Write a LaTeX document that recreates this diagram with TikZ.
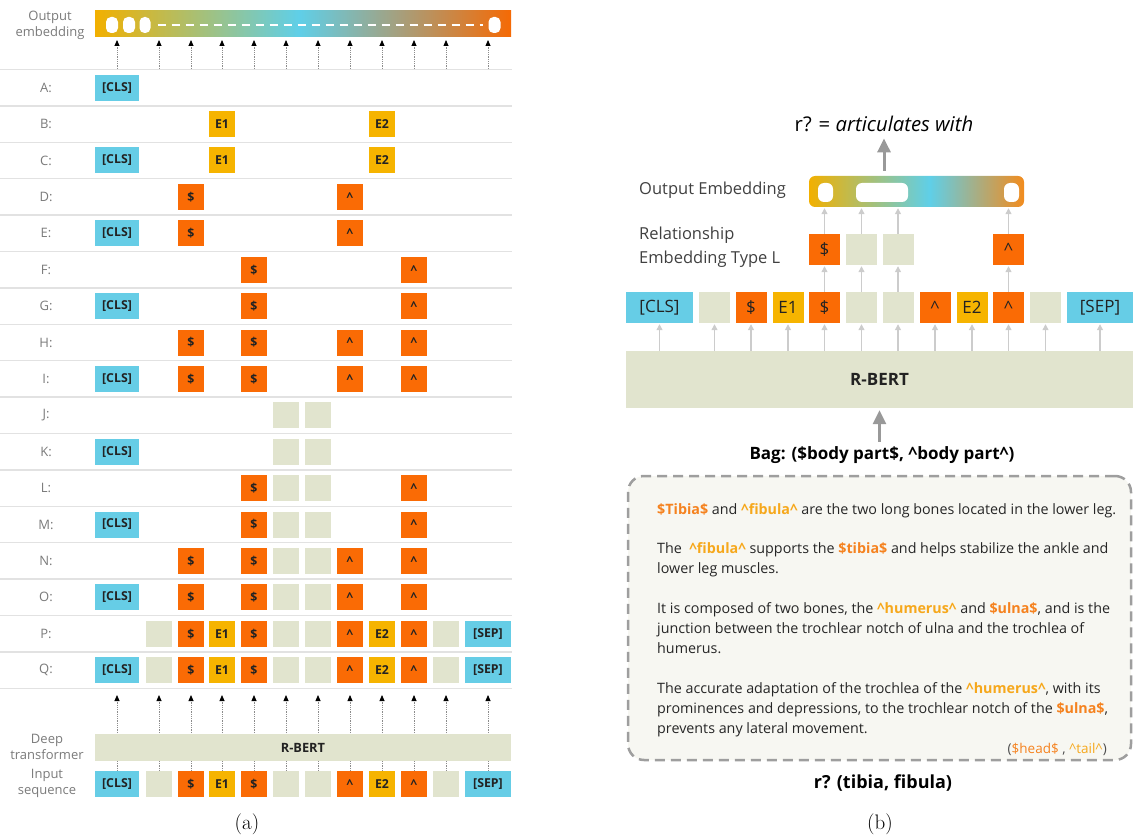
\documentclass[tikz,border=0pt]{standalone}
\usepackage{fontspec}
\newfontfamily\osans{Open Sans}
\usepackage{xcolor}
\usetikzlibrary{arrows.meta}
\usetikzlibrary{positioning}

\definecolor{clsblue}{HTML}{66CDE6}
\definecolor{padgreen}{HTML}{E1E4CE}
\definecolor{markorange}{HTML}{FA6B05}
\definecolor{entamber}{HTML}{F6B400}
\definecolor{hlorange}{HTML}{F5821F}
\definecolor{hlamber}{HTML}{F6A81C}
\definecolor{boxfill}{HTML}{F7F7F2}
\definecolor{sepgray}{HTML}{E2E2E2}
\definecolor{labgray}{HTML}{7A7A7A}
\definecolor{tokdark}{HTML}{222222}
\definecolor{embyel}{HTML}{F2B000}
\definecolor{embcyan}{HTML}{5FCFE8}
\definecolor{embora}{HTML}{F56A05}
\definecolor{embora2}{HTML}{F28C1E}

\pgfdeclarehorizontalshading{embleft}{100bp}{color(0bp)=(embyel); color(25bp)=(embyel); color(49.5bp)=(embcyan); color(75bp)=(embora); color(100bp)=(embora)}
\pgfdeclarehorizontalshading{embright}{100bp}{color(0bp)=(embyel); color(25bp)=(embyel); color(53bp)=(embcyan); color(75bp)=(embora2); color(100bp)=(embora2)}

\newcommand{\toklabel}[1]{\ifcase#1 [CLS]\or\or\$\or E1\or\$\or\or\or\textasciicircum\or E2\or\textasciicircum\or\or [SEP]\fi}
\newcommand{\headent}[1]{\textcolor{hlorange}{\bfseries\$#1\$}}
\newcommand{\tailent}[1]{\textcolor{hlamber}{\bfseries\textasciicircum#1\textasciicircum}}

\tikzset{
  tk0/.style={fill=clsblue}, tk1/.style={fill=padgreen}, tk2/.style={fill=markorange},
  tk3/.style={fill=entamber}, tk4/.style={tk2}, tk5/.style={tk1}, tk6/.style={tk1},
  tk7/.style={tk2}, tk8/.style={tk3}, tk9/.style={tk2}, tk10/.style={tk1}, tk11/.style={tk0},
}

\begin{document}
\begin{tikzpicture}[x=1pt, y=-1pt,
    every node/.style={font=\osans},
    rowlab/.style={font=\osans\fontsize{13}{16}\selectfont, text=labgray, align=center},
    sidelab/.style={font=\osans\fontsize{16.5}{24}\selectfont, text=black!75, align=left, anchor=west, inner sep=0pt},
    tokA/.style={minimum height=26pt, inner sep=0pt, font=\osans\bfseries\fontsize{12.3}{13}\selectfont, text=tokdark},
    tokB/.style={minimum height=31pt, inner sep=0pt, font=\osans\fontsize{17}{18}\selectfont, text=tokdark},
    pill/.style={fill=white, rounded corners=5pt, inner sep=0pt},
    bertbox/.style={fill=padgreen, inner sep=0pt, font=\osans\bfseries, text=tokdark},
    sepline/.style={draw=sepgray, line width=1.5pt},
    dotarrow/.style={densely dotted, draw=black!45, line width=0.8pt, -{Triangle[length=6pt, width=5pt, color=black]}},
    thinarrow/.style={draw=black!20, line width=1.2pt, -{Triangle[length=6pt, width=6pt]}, shorten >=1pt},
    bigarrow/.style={draw=black!40, line width=3pt, -{Triangle[length=14pt, width=13pt]}},
    para/.style={font=\osans\fontsize{14.3}{20}\selectfont, text=black!85, align=left, anchor=base west, inner sep=0pt},
    caption/.style={font=\normalfont\fontsize{21}{24}\selectfont},
  ]
  \useasboundingbox (0,0) rectangle (1133,837);

  % ---------------- (a) ----------------
  % Output embedding
  \node[shade, shading=embleft, minimum width=416pt, minimum height=26pt, inner sep=0pt] (embA) at (303,24) {};
  \node[rowlab] (embAlab) at (50,25) {Output\\embedding};
  \node[pill, minimum width=12pt, minimum height=16pt] (lp-1) at (112,25) {};
  \node[pill, minimum width=12pt, minimum height=16pt] (lp-2) at (129,25) {};
  \node[pill, minimum width=11pt, minimum height=16pt] (lp-3) at (145,25) {};
  \node[pill, minimum width=12pt, minimum height=16pt] (lp-4) at (494.5,25) {};
  \draw[white, line width=1.8pt, dash pattern=on 8pt off 6pt] ([xshift=7pt]lp-3.east) -- ([xshift=-5pt]lp-4.west);

  % Arrows into the output embedding
  \foreach \c in {0,...,11} {
    \pgfmathsetmacro{\x}{{117,159,191,222,254,286,318,350,382,414,446,488}[\c]}
    \coordinate (ot-\c) at (\x,69);
    \coordinate (oh-\c) at (\x,40);
    \draw[dotarrow] (ot-\c) -- (oh-\c);
  }

  % Row separators
  \foreach \k in {0,...,17} {
    \pgfmathsetmacro{\ys}{69.5+36.4*\k}
    \draw[sepline] (0,\ys) -- (512,\ys);
  }

  % Rows A--Q
  \foreach \lab/\toks [count=\r from 0] in {A/{0}, B/{3,8}, C/{0,3,8}, D/{2,7}, E/{0,2,7},
      F/{4,9}, G/{0,4,9}, H/{2,4,7,9}, I/{0,2,4,7,9}, J/{5,6}, K/{0,5,6}, L/{4,5,6,9},
      M/{0,4,5,6,9}, N/{2,4,5,6,7,9}, O/{0,2,4,5,6,7,9}, P/{1,...,11}, Q/{0,...,11}} {
    \pgfmathsetmacro{\y}{87.7+36.4*\r}
    \node[rowlab] (lab-\lab) at (46,\y) {\lab:};
    \foreach \c in \toks {
      \pgfmathsetmacro{\x}{{117,159,191,222,254,286,318,350,382,414,446,488}[\c]}
      \pgfmathsetmacro{\w}{{44,26,26,26,26,26,26,26,26,26,26,46}[\c]}
      \node[tokA, tk\c, minimum width=\w pt] (\lab-\c) at (\x,\y) {\toklabel{\c}};
    }
  }

  % Input sequence and deep transformer
  \foreach \c in {0,...,11} {
    \pgfmathsetmacro{\x}{{117,159,191,222,254,286,318,350,382,414,446,488}[\c]}
    \pgfmathsetmacro{\w}{{44,26,26,26,26,26,26,26,26,26,26,46}[\c]}
    \node[tokA, tk\c, minimum width=\w pt] (in-\c) at (\x,784) {\toklabel{\c}};
    \coordinate (ih-\c) at (\x,695);
    \draw[dotarrow] (in-\c.north) -- (ih-\c);
  }
  \node[bertbox, minimum width=416pt, minimum height=27pt, font=\osans\bfseries\fontsize{12.8}{13}\selectfont] (rbertA) at (303,747.5) {R-BERT};
  \node[rowlab] (deeplab) at (47,747) {Deep\\transformer};
  \node[rowlab] (inlab) at (47,783) {Input\\sequence};

  \node[caption] (capA) at (247,824) {(a)};

  % ---------------- (b) ----------------
  \node[font=\osans\fontsize{20.3}{24}\selectfont] (answer) at (884,124) {r? = \textit{articulates with}};

  % Output embedding
  \node[shade, shading=embright, rounded corners=6pt, minimum width=215pt, minimum height=31pt, inner sep=0pt] (embB) at (916.5,191.5) {};
  \node[pill, rounded corners=6pt, minimum width=15pt, minimum height=19pt] (rp-1) at (825.5,192.5) {};
  \node[pill, rounded corners=6pt, minimum width=52pt, minimum height=19pt] (rp-2) at (882,192.5) {};
  \node[pill, rounded corners=6pt, minimum width=15pt, minimum height=19pt] (rp-3) at (1011.5,192.5) {};
  \node[sidelab] (embBlab) at (639,190) {Output Embedding};
  \draw[bigarrow, shorten <=5pt, shorten >=3pt] (answer.south |- embB.north) -- (answer.south);

  % Relationship embedding
  \node[tokB, tk4, minimum width=31pt] (rel-4) at (824.5,249.5) {\$};
  \node[tokB, tk5, minimum width=31pt] (rel-5) at (861.5,249.5) {};
  \node[tokB, tk6, minimum width=31pt] (rel-6) at (898,249.5) {};
  \node[tokB, tk9, minimum width=31pt] (rel-9) at (1008.5,249.5) {\textasciicircum};
  \node[sidelab] (rellab) at (639,247) {Relationship\\Embedding Type L};

  % Token sequence
  \foreach \c in {0,...,11} {
    \pgfmathsetmacro{\x}{{659.5,714.5,751,788,824.5,861.5,898,935,972,1008.5,1045.5,1100}[\c]}
    \pgfmathsetmacro{\w}{{67,31,31,31,31,31,31,31,31,31,31,66}[\c]}
    \node[tokB, tk\c, minimum width=\w pt] (seq-\c) at (\x,307.5) {\toklabel{\c}};
  }
  \node[bertbox, minimum width=507pt, minimum height=57pt, font=\osans\bfseries\fontsize{17}{18}\selectfont] (rbert) at (879.5,379.5) {R-BERT};

  % Arrows
  \foreach \c in {0,...,11}
    \draw[thinarrow] (rbert.north -| seq-\c) -- (seq-\c.south);
  \foreach \c in {4,5,6,9} {
    \draw[thinarrow] (seq-\c.north) -- (rel-\c.south);
    \draw[thinarrow] (rel-\c.north) -- (rel-\c.north |- embB.south);
  }

  % Bag and corpus
  \node[font=\osans\bfseries\fontsize{17}{19}\selectfont] (bag) at (882,455) {Bag: (\$body part\$, \textasciicircum body part\textasciicircum)};
  \draw[bigarrow, shorten <=1pt, shorten >=2pt] (bag.north -| rbert.south) -- (rbert.south);

  \node[draw=black!38, fill=boxfill, line width=2.5pt, dash pattern=on 10pt off 6pt, rounded corners=16pt,
        minimum width=503pt, minimum height=284pt] (corpus) at (879.5,618) {};
  \node[para] (p1) at (657,514) {\headent{Tibia} and \tailent{fibula} are the two long bones located in the lower leg.};
  \node[para] (p2) at (657,573) {The \ \tailent{fibula} supports the \headent{tibia} and helps stabilize the ankle and\\lower leg muscles.};
  \node[para] (p3) at (657,653) {It is composed of two bones, the \tailent{humerus} and \headent{ulna}, and is the\\junction between the trochlear notch of ulna and the trochlea of\\humerus.};
  \node[para] (p4) at (657,733) {The accurate adaptation of the trochlea of the \tailent{humerus}, with its\\prominences and depressions, to the trochlear notch of the \headent{ulna},\\prevents any lateral movement.};
  \node[font=\osans\fontsize{13.5}{15}\selectfont, text=black!70, anchor=base east, inner sep=0pt] (legend) at (1107,753)
        {(\textcolor{hlorange}{\$head\$} , \textcolor{hlamber}{\textasciicircum tail\textasciicircum})};
  \node[font=\osans\bfseries\fontsize{18}{20}\selectfont, anchor=base] (query) at (883,788) {r? (tibia, fibula)};

  \node[caption] (capB) at (880,824) {(b)};
\end{tikzpicture}
\end{document}
